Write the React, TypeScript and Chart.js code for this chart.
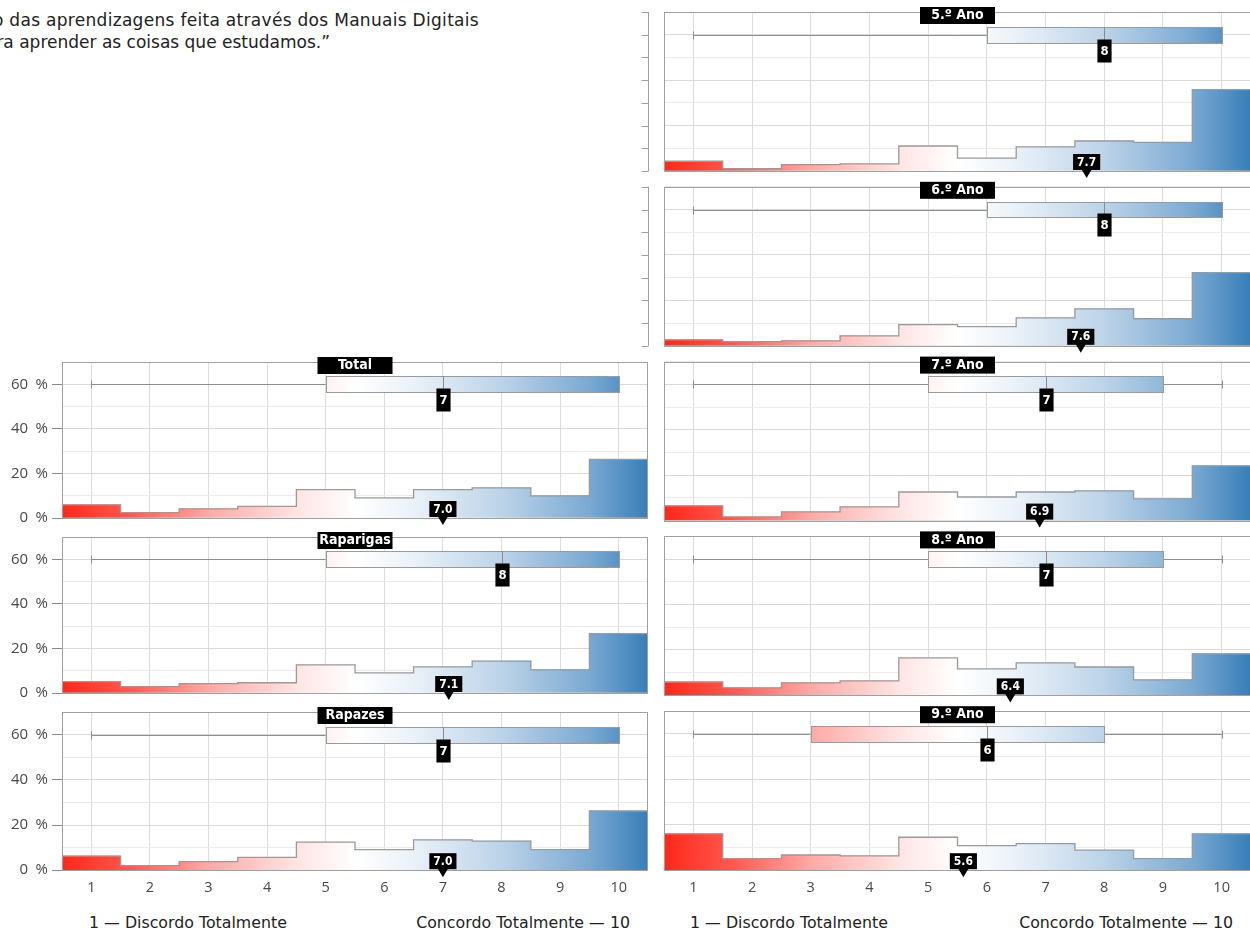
import React, { useEffect, useRef } from 'react';
import { Chart, registerables } from 'chart.js';

Chart.register(...registerables);

// ---------- data ----------
const categories = [1, 2, 3, 4, 5, 6, 7, 8, 9, 10];
const yTickValues = [0, 10, 20, 30, 40, 50, 60, 70];
const yLabelledTicks = [0, 20, 40, 60];

const headerLine1 = 'o das aprendizagens feita através dos Manuais Digitais';
const headerLine2 = 'ra aprender as coisas que estudamos.”';
const axisLeftLabel = '1 — Discordo Totalmente';
const axisRightLabel = 'Concordo Totalmente — 10';

const panelTitles = ['5.º Ano', '6.º Ano', 'Total', '7.º Ano', 'Raparigas', '8.º Ano', 'Rapazes', '9.º Ano'];

const ano5Values = [4.3, 1.0, 2.8, 3.1, 11.0, 5.7, 10.6, 13.2, 12.6, 35.8];
const ano6Values = [2.6, 1.8, 2.2, 4.4, 9.3, 8.4, 12.3, 16.3, 11.9, 32.2];
const totalValues = [5.9, 2.4, 4.1, 5.2, 12.7, 9.0, 12.7, 13.5, 9.9, 26.3];
const ano7Values = [6.5, 1.6, 3.8, 6.0, 12.6, 10.4, 12.6, 13.1, 9.6, 24.1];
const raparigasValues = [5.1, 2.9, 4.2, 4.6, 12.6, 9.0, 11.7, 14.3, 10.4, 26.6];
const ano8Values = [5.9, 3.3, 5.5, 6.4, 16.5, 11.7, 14.3, 12.5, 6.8, 18.3];
const rapazesValues = [6.2, 2.0, 3.8, 5.7, 12.4, 9.1, 13.4, 12.9, 9.1, 26.2];
const ano9Values = [16.0, 5.1, 6.7, 6.3, 14.5, 10.8, 11.7, 8.8, 5.1, 16.0];

// box stats: [min, q1, median, q3, max]
const ano5Box = [1, 6, 8, 10, 10];
const ano6Box = [1, 6, 8, 10, 10];
const totalBox = [1, 5, 7, 10, 10];
const ano7Box = [1, 5, 7, 9, 10];
const raparigasBox = [1, 5, 8, 10, 10];
const ano8Box = [1, 5, 7, 9, 10];
const rapazesBox = [1, 5, 7, 10, 10];
const ano9Box = [1, 3, 6, 8, 10];

const ano5Mean = 7.7;
const ano6Mean = 7.6;
const totalMean = 7.0;
const ano7Mean = 6.9;
const raparigasMean = 7.1;
const ano8Mean = 6.4;
const rapazesMean = 7.0;
const ano9Mean = 5.6;

const boxY = 60;
const boxLow = 56.5;
const boxHigh = 63.5;

// ---------- layout ----------
const panels = [
  { title: panelTitles[0], values: ano5Values, box: ano5Box, mean: ano5Mean, col: 1, row: 0 },
  { title: panelTitles[1], values: ano6Values, box: ano6Box, mean: ano6Mean, col: 1, row: 1 },
  { title: panelTitles[2], values: totalValues, box: totalBox, mean: totalMean, col: 0, row: 2 },
  { title: panelTitles[3], values: ano7Values, box: ano7Box, mean: ano7Mean, col: 1, row: 2 },
  { title: panelTitles[4], values: raparigasValues, box: raparigasBox, mean: raparigasMean, col: 0, row: 3 },
  { title: panelTitles[5], values: ano8Values, box: ano8Box, mean: ano8Mean, col: 1, row: 3 },
  { title: panelTitles[6], values: rapazesValues, box: rapazesBox, mean: rapazesMean, col: 0, row: 4 },
  { title: panelTitles[7], values: ano9Values, box: ano9Box, mean: ano9Mean, col: 1, row: 4 },
];

const PANEL_H = 159;
const ROW_STEP = 174.8;
const FIRST_TOP = 12;
const TEXT_FONT = '"DejaVu Sans", "Open Sans", sans-serif';
const TICK_FONT = '"Open Sans", Lato, sans-serif';
const LABEL_FONT = '"Liberation Sans Narrow", "DejaVu Sans Condensed", "Liberation Sans", sans-serif';

function makeGradient(ctx: CanvasRenderingContext2D, left: number, right: number) {
  const g = ctx.createLinearGradient(left, 0, right, 0);
  g.addColorStop(0, '#ff2819');
  g.addColorStop(0.12, '#ff5a52');
  g.addColorStop(0.25, '#ffa9a6');
  g.addColorStop(0.4, '#ffe4e3');
  g.addColorStop(0.5, '#ffffff');
  g.addColorStop(0.6, '#eaf1f8');
  g.addColorStop(0.75, '#bcd3e8');
  g.addColorStop(0.9, '#7ba9d2');
  g.addColorStop(1, '#377eb8');
  return g;
}

const decoPlugin = {
  id: 'deco',
  afterDatasetsDraw(chart: any, _args: any, opts: any) {
    const { ctx, chartArea: a, scales } = chart;
    const x = scales.x;
    const y = scales.y;
    ctx.save();

    // panel border
    ctx.strokeStyle = '#a0a0a0';
    ctx.lineWidth = 1;
    ctx.strokeRect(Math.round(a.left) + 0.5, Math.round(a.top) + 0.5, Math.round(a.right - a.left) - 1, Math.round(a.bottom - a.top));

    // extra axis line (rows without a left neighbour)
    if (opts.extraAxis) {
      const x0 = Math.round(a.left - 16) + 0.5;
      ctx.strokeStyle = '#a0a0a0';
      ctx.beginPath();
      ctx.moveTo(x0, a.top);
      ctx.lineTo(x0, a.bottom);
      yTickValues.forEach((v) => {
        const py = Math.round(y.getPixelForValue(v)) + 0.5;
        ctx.moveTo(x0 - 7, py);
        ctx.lineTo(x0, py);
      });
      ctx.stroke();
    }

    const [mn, q1, med, q3, mx] = opts.box;
    const yc = Math.round(y.getPixelForValue(boxY)) + 0.5;
    const yTop = Math.round(y.getPixelForValue(boxHigh)) + 0.5;
    const yBot = Math.round(y.getPixelForValue(boxLow)) + 0.5;

    // whiskers
    ctx.strokeStyle = '#8f8f8f';
    ctx.lineWidth = 1;
    ctx.beginPath();
    if (mn < q1) {
      const xm = Math.round(x.getPixelForValue(mn)) + 0.5;
      ctx.moveTo(xm, yc);
      ctx.lineTo(x.getPixelForValue(q1), yc);
      ctx.moveTo(xm, yc - 4);
      ctx.lineTo(xm, yc + 4);
    }
    if (mx > q3) {
      const xm = Math.round(x.getPixelForValue(mx)) + 0.5;
      ctx.moveTo(x.getPixelForValue(q3), yc);
      ctx.lineTo(xm, yc);
      ctx.moveTo(xm, yc - 4);
      ctx.lineTo(xm, yc + 4);
    }
    ctx.stroke();

    // box
    const bx1 = Math.round(x.getPixelForValue(q1)) + 0.5;
    const bx2 = Math.round(x.getPixelForValue(q3)) + 0.5;
    ctx.fillStyle = makeGradient(ctx, a.left, a.right);
    ctx.fillRect(bx1, yTop, bx2 - bx1, yBot - yTop);
    ctx.strokeStyle = '#9a9a9a';
    ctx.strokeRect(bx1, yTop, bx2 - bx1, yBot - yTop);

    // median
    const xMed = Math.round(x.getPixelForValue(med)) + 0.5;
    ctx.strokeStyle = '#8a8a8a';
    ctx.beginPath();
    ctx.moveTo(xMed, yTop);
    ctx.lineTo(xMed, yBot);
    ctx.stroke();
    ctx.font = 'bold 13px ' + LABEL_FONT;
    const medText = String(med);
    const mw = Math.max(14, ctx.measureText(medText).width + 6);
    ctx.fillStyle = '#000';
    ctx.fillRect(xMed - mw / 2, yBot - 4, mw, 23);
    ctx.fillStyle = '#fff';
    ctx.textAlign = 'center';
    ctx.textBaseline = 'middle';
    ctx.fillText(medText, xMed, yBot + 8);

    // mean
    const xMean = x.getPixelForValue(opts.mean);
    const meanText = opts.mean.toFixed(1);
    ctx.font = 'bold 12px ' + LABEL_FONT;
    const tw = ctx.measureText(meanText).width + 8;
    const rb = a.bottom - 1;
    ctx.fillStyle = '#000';
    ctx.fillRect(xMean - tw / 2, rb - 16, tw, 16);
    ctx.beginPath();
    ctx.moveTo(xMean - 5, rb - 0.5);
    ctx.lineTo(xMean + 5, rb - 0.5);
    ctx.lineTo(xMean, rb + 8);
    ctx.closePath();
    ctx.fill();
    ctx.fillStyle = '#fff';
    ctx.fillText(meanText, xMean, rb - 7.5);

    // title
    const cx = (a.left + a.right) / 2;
    ctx.fillStyle = '#000';
    ctx.fillRect(cx - 37.5, a.top - 5, 75, 17);
    ctx.fillStyle = '#fff';
    ctx.font = 'bold 14px ' + LABEL_FONT;
    ctx.fillText(opts.title, cx, a.top + 3.5);

    ctx.restore();
  },
};

type PanelDef = typeof panels[number];

function Panel({ p }: { p: PanelDef }) {
  const ref = useRef<HTMLCanvasElement>(null);
  const isLeft = p.col === 0;
  const isBottom = p.row === 4;
  const panelTop = FIRST_TOP + ROW_STEP * p.row;
  const canvasTop = Math.floor(panelTop) - 12;
  const padTop = panelTop - canvasTop;
  const xAxisH = isBottom ? 30 : 0;
  const H = Math.ceil(padTop + PANEL_H + xAxisH + 10);
  const padBottom = H - padTop - PANEL_H - xAxisH;
  const canvasLeft = isLeft ? 0 : 640;
  const W = isLeft ? 652 : 611;
  const padRight = isLeft ? 4 : 0;
  const yAxisW = isLeft ? 62 : 24;

  useEffect(() => {
    const canvas = ref.current;
    if (!canvas) return;
    const last = p.values.length - 1;
    const stepPoints = p.values
      .map((v, i) => ({ x: categories[i] - 0.5, y: v }))
      .concat([{ x: categories[last] + 0.5, y: p.values[last] }]);
    const barPoints = p.values.map((v, i) => ({ x: categories[i], y: v }));

    const chart = new Chart(canvas, {
      type: 'bar',
      data: {
        datasets: [
          {
            type: 'line',
            data: stepPoints,
            stepped: 'before',
            borderColor: '#9a9a9a',
            borderWidth: 1.3,
            pointRadius: 0,
            fill: false,
            order: 0,
          } as any,
          {
            type: 'bar',
            data: barPoints,
            backgroundColor: (c: any) => {
              const area = c.chart.chartArea;
              if (!area) return '#ccc';
              return makeGradient(c.chart.ctx, area.left, area.right);
            },
            borderWidth: 0,
            barPercentage: 1,
            categoryPercentage: 1,
            order: 1,
          } as any,
        ],
      },
      options: {
        animation: false,
        responsive: false,
        maintainAspectRatio: false,
        events: [],
        layout: { padding: { top: padTop, bottom: padBottom, left: 0, right: padRight } },
        plugins: {
          legend: { display: false },
          tooltip: { enabled: false },
          deco: { title: p.title, box: p.box, mean: p.mean, extraAxis: !isLeft && p.row < 2 },
        } as any,
        scales: {
          x: {
            type: 'linear',
            min: 0.5,
            max: 10.5,
            offset: false,
            afterBuildTicks: (s: any) => {
              s.ticks = categories.map((v) => ({ value: v }));
            },
            afterFit: (s: any) => {
              s.height = xAxisH;
            },
            grid: { color: '#dedede', lineWidth: 1, drawTicks: false, offset: false },
            border: { display: false },
            ticks: {
              display: isBottom,
              padding: 9,
              color: '#4a4a4a',
              font: { family: TICK_FONT, size: 14.5 },
              callback: (v: any) => String(v),
            },
          },
          y: {
            type: 'linear',
            min: 0,
            max: 70,
            afterBuildTicks: (s: any) => {
              s.ticks = yTickValues.map((v) => ({ value: v }));
            },
            afterFit: (s: any) => {
              s.width = yAxisW;
            },
            grid: {
              color: (c: any) => (yLabelledTicks.includes(c.tick.value) ? '#d9d9d9' : '#ebebeb'),
              drawTicks: isLeft,
              tickLength: 10,
              tickColor: (c: any) => (yLabelledTicks.includes(c.tick.value) ? '#8a8a8a' : 'rgba(0,0,0,0)'),
            },
            border: { display: false },
            ticks: {
              display: isLeft,
              padding: 4,
              color: '#4a4a4a',
              font: { family: TICK_FONT, size: 15 },
              callback: (v: any) => (yLabelledTicks.includes(v) ? v + '\u2002%' : ''),
            },
          },
        },
      } as any,
      plugins: [decoPlugin],
    });
    return () => chart.destroy();
  }, []);

  return (
    <canvas
      ref={ref}
      width={W}
      height={H}
      style={{ position: 'absolute', left: canvasLeft, top: canvasTop, width: W, height: H }}
    />
  );
}

export default function App() {
  const textStyle: React.CSSProperties = {
    position: 'absolute',
    whiteSpace: 'nowrap',
    fontFamily: TEXT_FONT,
    color: '#222',
  };
  return (
    <div style={{ position: 'fixed', left: 0, top: 0, width: 1250, height: 934, overflow: 'hidden', background: '#fff' }}>
      <div style={{ ...textStyle, right: 1250 - 479, top: 9, fontSize: 17, letterSpacing: '0.3px', lineHeight: '22px' }}>{headerLine1}</div>
      <div style={{ ...textStyle, right: 1250 - 330, top: 31, fontSize: 17, lineHeight: '22px' }}>{headerLine2}</div>
      {panels.map((p) => (
        <Panel key={p.title} p={p} />
      ))}
      <div style={{ ...textStyle, left: 89, top: 913, fontSize: 15.8, lineHeight: '20px' }}>{axisLeftLabel}</div>
      <div style={{ ...textStyle, right: 1250 - 630, top: 913, fontSize: 15.8, lineHeight: '20px' }}>{axisRightLabel}</div>
      <div style={{ ...textStyle, left: 690, top: 913, fontSize: 15.8, lineHeight: '20px' }}>{axisLeftLabel}</div>
      <div style={{ ...textStyle, right: 1250 - 1233, top: 913, fontSize: 15.8, lineHeight: '20px' }}>{axisRightLabel}</div>
    </div>
  );
}
